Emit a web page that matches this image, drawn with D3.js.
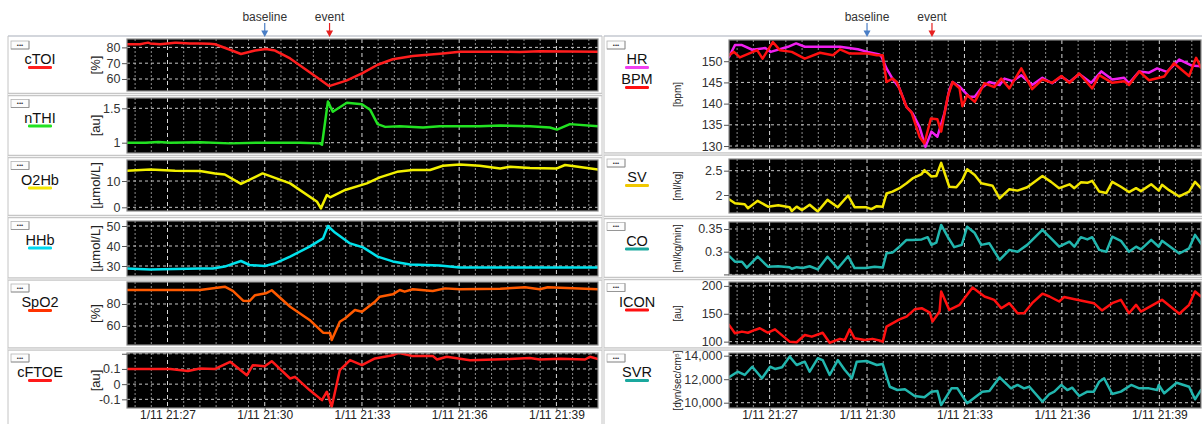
<!DOCTYPE html>
<html>
<head>
<meta charset="utf-8">
<script src="https://cdn.jsdelivr.net/npm/d3@7"></script>
<style>
  body { margin: 0; background: #fff; }
  svg { display: block; font-family: "Liberation Sans", Arial, Helvetica, sans-serif; }
</style>
</head>
<body>
<svg id="chart" width="1202" height="424"></svg>
<script>
// ---- time axis (minutes after 21:00 on 1/11) ----
const timeDomain = [25.75, 40.28];
const timeTicks = [27, 30, 33, 36, 39];
const markerTimes = [30, 32];
const markerLabels = ["baseline", "event"];

// ---- y ticks ----
const cTOITicks = [60, 70, 80];
const nTHITicks = [1, 1.5];
const o2hbTicks = [0, 10];
const hhbTicks = [30, 40, 50];
const spo2Ticks = [60, 80];
const cftoeTicks = [-0.1, 0, 0.1, 0.2];
const hrTicks = [130, 135, 140, 145, 150];
const svTicks = [2, 2.5];
const coTicks = [0.25, 0.3, 0.35];
const iconTicks = [100, 150, 200];
const svrTicks = [10000, 12000, 14000];
const unlabelledTicks = [0.2, 0.25];

// ---- series: [minute, value] ----
const cTOI = [[25.75,82],[26.15,82],[26.40,83],[26.46,82.5],[26.77,82],[27.23,83],[27.29,83],[27.69,82.5],[28.0,82.5],[28.30,82.3],[28.46,82],[28.87,79],[29.27,75.8],[29.70,78],[30.04,79],[30.31,78],[30.78,73],[31.61,61],[31.98,55.5],[32.51,59],[33.0,63.5],[33.49,69],[33.95,72.5],[34.57,74.5],[35.50,76.2],[36.02,77.2],[37.26,77.3],[37.87,77.0],[38.49,77.5],[40.28,77.2]];
const nTHI = [[25.75,1.0],[26.31,1.0],[26.71,1.01],[27.08,1.0],[28.0,1.005],[28.93,0.99],[29.85,1.0],[31.09,1.0],[31.70,0.99],[31.77,0.97],[31.95,1.6],[32.10,1.45],[32.54,1.58],[33.0,1.56],[33.25,1.48],[33.49,1.27],[33.71,1.23],[34.17,1.24],[34.88,1.22],[35.40,1.24],[36.64,1.24],[37.26,1.25],[38.18,1.24],[38.80,1.22],[39.01,1.19],[39.41,1.27],[40.28,1.24]];
const o2hb = [[25.75,13.9],[26.46,14.4],[27.23,13.9],[28.0,13.8],[28.46,12.9],[28.77,12.5],[29.27,8.9],[29.94,12.9],[30.78,9.1],[31.61,2.1],[31.73,-0.4],[31.92,4.7],[32.01,3.8],[32.48,6.6],[33.15,9.1],[33.55,11.4],[34.08,13.5],[34.57,14.2],[35.10,14.2],[35.50,15.8],[36.02,16.3],[36.64,15.8],[37.26,14.8],[37.56,15.4],[38.18,15.0],[39.01,14.8],[39.26,16.1],[39.66,15.4],[40.28,14.4]];
const hhb = [[25.75,28.8],[26.46,28.3],[28.0,28.8],[28.40,28.8],[28.77,29.7],[29.27,32.5],[29.54,30.5],[30.0,30.0],[30.31,31.3],[30.78,34.7],[31.39,39.7],[31.80,43.8],[31.95,50],[32.17,46.7],[32.63,41.3],[33.03,39.3],[33.49,34.7],[33.95,32.3],[34.48,30.8],[35.40,30.2],[36.02,29.2],[37.26,29.2],[40.28,29.2]];
const spo2 = [[25.75,92.7],[28.0,92.7],[28.77,95.7],[29.02,92],[29.33,83],[29.54,82.7],[29.70,88],[30.04,89.7],[30.22,92.5],[30.78,77.5],[31.39,65.5],[31.80,53.9],[32.01,53.6],[32.07,47.3],[32.32,63.9],[32.48,67],[32.78,74.5],[33.0,73],[33.40,82],[33.55,86.6],[33.95,88.8],[34.17,92.7],[34.32,91.2],[34.57,93.4],[35.19,91.8],[35.56,94.2],[36.02,93.4],[37.26,93.8],[38.03,95.2],[38.49,93.4],[38.74,95.2],[40.28,93.4]];
const cftoe = [[25.75,0.10],[27.08,0.10],[27.63,0.086],[28.0,0.103],[28.46,0.10],[28.93,0.147],[29.45,0.059],[29.64,0.125],[30.0,0.118],[30.22,0.151],[30.78,0.037],[30.93,0.048],[31.39,-0.039],[31.77,-0.105],[31.92,-0.05],[32.07,-0.149],[32.32,0.092],[32.63,0.158],[33.0,0.125],[33.40,0.169],[33.95,0.19],[34.11,0.206],[34.54,0.186],[35.19,0.186],[35.31,0.162],[35.62,0.18],[36.33,0.158],[37.56,0.165],[38.18,0.172],[38.49,0.162],[39.11,0.167],[39.88,0.162],[40.03,0.18],[40.28,0.165]];
const hr = [[25.75,151],[25.93,153.8],[26.15,153.8],[26.46,152.7],[26.86,153.1],[27.04,152.2],[27.56,153.4],[27.81,154.2],[28.08,153.4],[28.61,153.4],[29.16,153.4],[29.71,152.8],[30.02,152.2],[30.39,151.6],[30.45,151],[30.60,148.3],[30.79,145.9],[31.0,143.6],[31.22,139.2],[31.40,137.7],[31.62,134.5],[31.80,129.8],[31.99,133.4],[32.17,132.2],[32.39,137.7],[32.54,143.2],[32.63,145.1],[32.85,144],[33.15,141.6],[33.31,141.6],[33.52,143.6],[33.77,145.1],[34.08,144.4],[34.23,145.9],[34.48,145.3],[34.75,146.7],[35.09,144.4],[35.40,146.1],[35.70,144.8],[35.98,146.4],[36.23,145.1],[36.53,147],[36.90,144.9],[37.21,147.6],[37.55,145.7],[37.92,146.1],[38.07,144.8],[38.38,147.6],[38.69,147.3],[38.93,148.3],[39.24,147.5],[39.61,150.4],[39.98,149],[40.28,148.8]];
const bpm = [[25.75,151.4],[25.90,152.2],[26.09,150.9],[26.61,152.6],[26.79,150.6],[27.10,154.5],[27.32,152.6],[27.69,152.2],[28.08,150.6],[28.55,152],[28.95,151.4],[29.16,152.8],[29.47,151.8],[30.02,151.8],[30.30,151.4],[30.48,151.4],[30.60,145.1],[30.79,145.9],[30.91,145.1],[31.22,139.2],[31.37,138.0],[31.62,132.2],[31.77,130.6],[31.96,136.5],[32.17,136.3],[32.29,133.4],[32.48,141.6],[32.63,145.1],[32.85,143.6],[32.94,139.4],[33.09,142],[33.31,140.4],[33.61,144.8],[33.92,143.9],[34.14,145.9],[34.38,143.6],[34.75,148.3],[35.09,143.4],[35.40,145.7],[35.70,144.9],[35.98,146.5],[36.23,144.9],[36.53,147.1],[36.93,143.6],[37.15,146.7],[37.55,144.9],[37.92,145.3],[38.07,144.4],[38.38,147.6],[38.69,145.5],[39.15,146.4],[39.45,149.5],[39.92,146.5],[40.13,150.8],[40.28,148.5]];
const sv = [[25.75,1.91],[25.93,1.83],[26.24,1.81],[26.33,1.73],[26.64,1.88],[26.95,1.76],[27.26,1.79],[27.62,1.75],[27.69,1.67],[27.84,1.76],[28.0,1.69],[28.24,1.80],[28.48,1.66],[28.79,1.90],[29.10,1.75],[29.41,1.99],[29.62,1.75],[29.96,1.75],[30.14,1.71],[30.30,1.77],[30.48,1.76],[30.60,2.03],[30.79,2.07],[31.0,2.14],[31.22,2.24],[31.40,2.34],[31.68,2.43],[31.77,2.51],[31.99,2.38],[32.14,2.39],[32.29,2.66],[32.54,2.17],[32.75,2.16],[32.94,2.31],[33.09,2.53],[33.31,2.41],[33.52,2.24],[33.86,2.19],[34.08,1.93],[34.38,2.12],[34.63,2.09],[34.94,2.16],[35.40,2.39],[35.67,2.27],[35.92,2.14],[36.23,2.22],[36.38,2.14],[36.59,2.26],[36.78,2.25],[36.93,2.29],[37.15,2.07],[37.36,2.04],[37.55,2.27],[37.82,2.17],[38.07,2.06],[38.29,2.14],[38.44,2.08],[38.75,2.22],[38.99,2.09],[39.08,2.21],[39.30,2.10],[39.61,1.97],[39.92,2.07],[40.10,2.27],[40.28,2.14]];
const co = [[25.75,0.291],[25.93,0.278],[26.15,0.278],[26.30,0.265],[26.64,0.289],[26.95,0.267],[27.26,0.268],[27.62,0.266],[27.69,0.2625],[27.84,0.266],[28.02,0.264],[28.24,0.268],[28.48,0.261],[28.79,0.289],[29.10,0.263],[29.41,0.290],[29.62,0.264],[29.96,0.264],[30.24,0.267],[30.48,0.265],[30.60,0.2965],[30.79,0.298],[31.0,0.311],[31.22,0.326],[31.40,0.326],[31.68,0.327],[31.86,0.332],[31.99,0.315],[32.14,0.320],[32.29,0.359],[32.48,0.333],[32.69,0.310],[32.91,0.315],[33.09,0.355],[33.31,0.341],[33.52,0.315],[33.77,0.3185],[34.08,0.282],[34.38,0.304],[34.63,0.300],[34.94,0.315],[35.40,0.348],[35.67,0.3295],[35.92,0.311],[36.23,0.322],[36.38,0.311],[36.59,0.332],[36.78,0.327],[36.93,0.332],[37.15,0.304],[37.36,0.300],[37.55,0.333],[37.82,0.324],[38.07,0.300],[38.29,0.311],[38.44,0.305],[38.75,0.326],[38.99,0.311],[39.08,0.324],[39.61,0.296],[39.92,0.3075],[40.10,0.337],[40.28,0.318]];
const icon = [[25.75,130],[25.93,115],[26.15,118],[26.33,116],[26.55,121],[26.70,124],[26.95,116],[27.16,122],[27.62,100],[27.84,99],[28.08,112],[28.30,109],[28.64,116],[28.85,98],[29.16,105],[29.31,103],[29.47,122],[29.62,106],[29.93,103],[30.17,105],[30.39,102],[30.48,100],[30.60,127],[31.0,140],[31.22,145],[31.46,158],[31.68,160],[31.93,152],[32.02,136],[32.23,154],[32.29,190],[32.54,157],[32.85,166],[33.0,178],[33.25,197],[33.61,181],[33.92,175],[34.14,160],[34.38,169],[34.63,151],[34.84,151],[35.09,169],[35.40,186],[35.61,181],[35.92,172],[36.07,180],[36.47,175],[36.99,169],[37.24,156],[37.55,169],[37.82,175],[38.07,151],[38.29,166],[38.44,154],[39.08,175],[39.61,150],[39.92,166],[40.10,190],[40.28,181]];
const svr = [[25.75,12160],[26.02,12640],[26.24,12360],[26.46,13060],[26.76,12080],[27.01,13060],[27.16,12870],[27.38,13010],[27.62,13920],[27.84,13210],[28.08,13490],[28.24,12640],[28.48,13780],[28.64,13630],[28.85,12360],[29.10,13630],[29.31,12780],[29.53,12080],[29.68,13490],[29.99,13550],[30.30,13210],[30.48,13290],[30.70,11360],[30.94,11080],[31.16,11140],[31.46,10570],[31.77,10460],[31.99,10940],[32.17,11000],[32.29,9800],[32.60,11220],[32.79,11220],[33.09,9950],[33.55,10940],[33.77,11000],[34.08,12160],[34.44,11220],[34.63,11510],[34.84,11220],[35.0,11360],[35.40,10090],[35.61,10740],[35.77,10940],[35.98,11510],[36.16,11080],[36.32,11280],[36.53,10570],[36.78,10940],[36.99,10940],[37.15,11790],[37.30,12080],[37.55,10740],[37.82,10940],[38.13,11510],[38.38,11220],[38.69,11220],[38.93,11080],[38.99,11510],[39.15,10800],[39.54,11700],[39.92,11360],[40.10,10290],[40.28,11080]];

// ---- panel definitions ----
const num = d => String(d);
const leftPanels = [
  { unit: "[%]", domain: [52.4, 85.3], ticks: cTOITicks, fmt: num,
    series: [{ name: "cTOI", data: cTOI, color: "#ff1e1e", mark: "#ff1e1e" }] },
  { unit: "[au]", domain: [0.85, 1.65], ticks: nTHITicks, fmt: num,
    series: [{ name: "nTHI", data: nTHI, color: "#22e222", mark: "#22e222" }] },
  { unit: "[\u00b5mol/L]", domain: [-1.4, 18], ticks: o2hbTicks, fmt: num,
    series: [{ name: "O2Hb", data: o2hb, color: "#f2f000", mark: "#f5e600" }] },
  { unit: "[\u00b5mol/L]", domain: [25, 52.5], ticks: hhbTicks, fmt: num,
    series: [{ name: "HHb", data: hhb, color: "#00e2ec", mark: "#00d8f0" }] },
  { unit: "[%]", domain: [42.7, 100], ticks: spo2Ticks, fmt: num,
    series: [{ name: "SpO2", data: spo2, color: "#ff5a00", mark: "#ff3300" }] },
  { unit: "[au]", domain: [-0.157, 0.205], ticks: cftoeTicks, fmt: num,
    series: [{ name: "cFTOE", data: cftoe, color: "#ff1a1a", mark: "#ff1a1a" }] }
];
const rightPanels = [
  { unit: "[bpm]", domain: [129.3, 155], ticks: hrTicks, fmt: num,
    series: [{ name: "HR", data: hr, color: "#f020f0", mark: "#f040f0" },
             { name: "BPM", data: bpm, color: "#ff1010", mark: "#ff1010" }] },
  { unit: "[ml/kg]", domain: [1.63, 2.74], ticks: svTicks, fmt: num,
    series: [{ name: "SV", data: sv, color: "#f2e600", mark: "#f0c800" }] },
  { unit: "[ml/kg/min]", domain: [0.2487, 0.3654], ticks: coTicks, fmt: num,
    series: [{ name: "CO", data: co, color: "#22b6ae", mark: "#1aa89e" }] },
  { unit: "[au]", domain: [94, 207], ticks: iconTicks, fmt: num,
    series: [{ name: "ICON", data: icon, color: "#ff1010", mark: "#ff1010" }] },
  { unit: "[dyn/sec/cm\u2075]", domain: [9550, 14230], ticks: svrTicks, fmt: d3.format(","),
    series: [{ name: "SVR", data: svr, color: "#22b6ae", mark: "#1aa89e" }] }
];

// ---- layout ----
const leftLayout = {
  x0: 127, x1: 598, frameX0: 8, frameX1: 602, nameX: 40, unitX: 95, unitSize: 13,
  rows: [[39, 91], [98, 153], [160, 211], [221, 276], [282, 345], [353, 408]],
  bounds: [36, 94.5, 156.5, 216.5, 279, 349]
};
const rightLayout = {
  x0: 729, x1: 1201, frameX0: 604, frameX1: 1203, nameX: 637, unitX: 677, unitSize: 10,
  rows: [[40, 149], [159, 213], [222, 275], [282, 345], [353, 408]],
  bounds: [36, 154, 217.5, 278.5, 349]
};

const at = m => new Date(2019, 0, 11, 21, 0, Math.round(m * 60));
const fmtTime = d3.timeFormat("%-m/%-d %H:%M");
const svg = d3.select("#chart");
const defs = svg.append("defs");
let clipId = 0;

function drawGroup(layout, panels) {
  const g = svg.append("g");
  const x = d3.scaleTime().domain(timeDomain.map(at)).range([layout.x0, layout.x1]);
  const majorDates = timeTicks.map(at);
  const majorSet = new Set(majorDates.map(d => +d));
  const minorDates = d3.timeSecond.every(30).range(at(timeDomain[0]), at(timeDomain[1]))
    .filter(d => !majorSet.has(+d));

  // outer frame
  g.append("line").attr("x1", layout.frameX0).attr("x2", layout.frameX1)
    .attr("y1", layout.bounds[0]).attr("y2", layout.bounds[0])
    .attr("stroke", "#c4c8d0").attr("stroke-width", 1.5);
  g.append("line").attr("x1", layout.frameX0).attr("x2", layout.frameX0)
    .attr("y1", layout.bounds[0]).attr("y2", 424)
    .attr("stroke", "#c4c4c4").attr("stroke-width", 1);
  g.append("line").attr("x1", layout.frameX1).attr("x2", layout.frameX1)
    .attr("y1", layout.bounds[0]).attr("y2", 424)
    .attr("stroke", "#c4c4c4").attr("stroke-width", 1);
  layout.bounds.slice(1).forEach(b => {
    g.append("line").attr("x1", layout.frameX0).attr("x2", layout.frameX1)
      .attr("y1", b).attr("y2", b).attr("stroke", "#c6c6c6").attr("stroke-width", 3.5);
    g.append("line").attr("x1", layout.frameX0).attr("x2", layout.frameX1)
      .attr("y1", b).attr("y2", b).attr("stroke", "#f4f4f4").attr("stroke-width", 1);
  });

  panels.forEach((p, i) => {
    const [top, bottom] = layout.rows[i];
    const frameTop = layout.bounds[i];
    const y = d3.scaleLinear().domain(p.domain).range([bottom, top]);
    const pg = g.append("g");

    // small menu button
    const bx = layout.frameX0 + 3, by = frameTop + 5;
    pg.append("rect").attr("x", bx).attr("y", by).attr("width", 18).attr("height", 8)
      .attr("fill", "#fcfcfc").attr("stroke", "#b4b4b4").attr("stroke-width", 0.8);
    pg.append("path").attr("d", `M${bx + 18},${by} V${by + 8} H${bx}`)
      .attr("fill", "none").attr("stroke", "#8a8a8a").attr("stroke-width", 0.8);
    pg.append("text").attr("x", bx + 9).attr("y", by + 5.6).attr("text-anchor", "middle")
      .attr("font-size", 6).attr("fill", "#333").text("\u2022\u2022\u2022");

    // series names with coloured underline
    p.series.forEach((s, k) => {
      const base = frameTop + 28 + k * 20;
      const w = 24;
      pg.append("text").attr("x", layout.nameX).attr("y", base).attr("text-anchor", "middle")
        .attr("font-size", 14.5).attr("fill", "#111").text(s.name);
      pg.append("rect").attr("x", layout.nameX - w / 2).attr("y", base + 2)
        .attr("width", w).attr("height", 3).attr("rx", 1.2).attr("fill", s.mark);
    });

    // unit label
    pg.append("text")
      .attr("transform", `translate(${layout.unitX},${(top + bottom) / 2}) rotate(-90)`)
      .attr("text-anchor", "middle").attr("dominant-baseline", "central")
      .attr("font-size", layout.unitSize).attr("fill", "#222").text(p.unit);

    // plot background
    pg.append("rect").attr("x", layout.x0).attr("y", top)
      .attr("width", layout.x1 - layout.x0).attr("height", bottom - top).attr("fill", "#000");

    // grid
    pg.append("g").selectAll("line").data(minorDates).join("line")
      .attr("x1", d => x(d)).attr("x2", d => x(d)).attr("y1", top).attr("y2", bottom)
      .attr("stroke", "#8c8c8c").attr("stroke-width", 1).attr("stroke-dasharray", "2,2");
    pg.append("g").selectAll("line").data(majorDates).join("line")
      .attr("x1", d => x(d)).attr("x2", d => x(d)).attr("y1", top).attr("y2", bottom)
      .attr("stroke", "#d8d8d8").attr("stroke-width", 1).attr("stroke-dasharray", "4,3");
    pg.append("g").selectAll("line").data(p.ticks).join("line")
      .attr("x1", layout.x0).attr("x2", layout.x1).attr("y1", d => y(d)).attr("y2", d => y(d))
      .attr("stroke", "#c8c8c8").attr("stroke-width", 1).attr("stroke-dasharray", "3,3");

    // data lines
    const id = "clip" + (clipId++);
    defs.append("clipPath").attr("id", id).append("rect")
      .attr("x", layout.x0).attr("y", top).attr("width", layout.x1 - layout.x0).attr("height", bottom - top);
    const line = d3.line().x(d => x(at(d[0]))).y(d => y(d[1]));
    const lg = pg.append("g").attr("clip-path", `url(#${id})`);
    p.series.forEach(s => {
      lg.append("path").attr("d", line(s.data)).attr("fill", "none")
        .attr("stroke", s.color).attr("stroke-width", 2.5)
        .attr("stroke-linejoin", "round").attr("stroke-linecap", "round");
    });

    // plot border
    pg.append("rect").attr("x", layout.x0).attr("y", top)
      .attr("width", layout.x1 - layout.x0).attr("height", bottom - top)
      .attr("fill", "none").attr("stroke", "#8a8a8a").attr("stroke-width", 1.2);

    // y axis
    const ax = pg.append("g").attr("transform", `translate(${layout.x0},0)`)
      .call(d3.axisLeft(y).tickValues(p.ticks).tickSize(5).tickPadding(1.5)
        .tickFormat(d => unlabelledTicks.includes(d) ? "" : p.fmt(d)));
    ax.select(".domain").remove();
    ax.selectAll(".tick line").attr("stroke", "#555");
    ax.selectAll("text").attr("font-size", 12.5).attr("fill", "#333")
      .attr("font-family", "Liberation Sans, Arial, sans-serif");
  });

  // time axis under the last panel
  const lastBottom = layout.rows[layout.rows.length - 1][1];
  const xa = g.append("g").attr("transform", `translate(0,${lastBottom})`)
    .call(d3.axisBottom(x).tickValues(majorDates).tickSize(3).tickPadding(0).tickFormat(fmtTime));
  xa.select(".domain").remove();
  xa.selectAll(".tick line").attr("stroke", "#666");
  xa.selectAll("text").attr("font-size", 12).attr("fill", "#222").attr("dy", "0.68em")
    .attr("font-family", "Liberation Sans, Arial, sans-serif");

  // event markers above the first panel
  const markerColors = ["#4a7ec6", "#e62020"];
  markerTimes.forEach((t, k) => {
    const mx = x(at(t));
    g.append("text").attr("x", mx).attr("y", 21).attr("text-anchor", "middle")
      .attr("font-size", 12).attr("fill", "#333").text(markerLabels[k]);
    g.append("line").attr("x1", mx).attr("x2", mx).attr("y1", 23).attr("y2", 32)
      .attr("stroke", markerColors[k]).attr("stroke-width", 1.2);
    g.append("path").attr("d", `M${mx - 3.5},30.5 L${mx + 3.5},30.5 L${mx},37 Z`)
      .attr("fill", markerColors[k]);
  });
}

drawGroup(leftLayout, leftPanels);
drawGroup(rightLayout, rightPanels);
</script>
</body>
</html>
